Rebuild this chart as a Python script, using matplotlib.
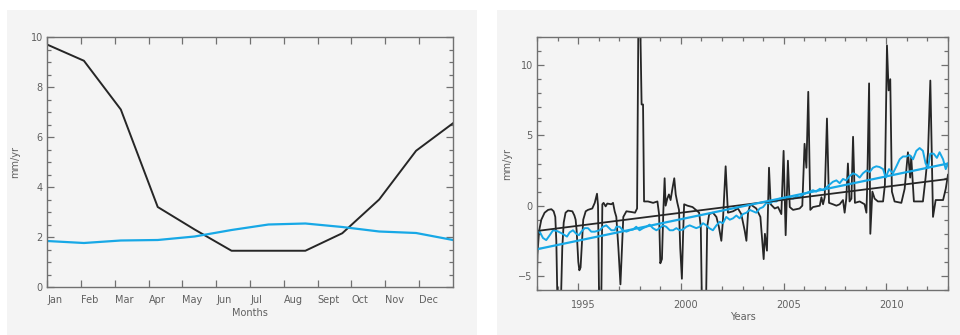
import numpy as np
import matplotlib.pyplot as plt
from matplotlib.patches import Rectangle
from matplotlib.ticker import MultipleLocator
import matplotlib.transforms as mtrans

# left panel: mean seasonal cycle (12 points spread over the year)
months = ['Jan', 'Feb', 'Mar', 'Apr', 'May', 'Jun', 'Jul', 'Aug', 'Sept', 'Oct', 'Nov', 'Dec']
season_black = [9.7, 9.05, 7.1, 3.2, 2.3, 1.45, 1.45, 1.45, 2.15, 3.5, 5.45, 6.55]
season_blue = [1.84, 1.76, 1.86, 1.88, 2.02, 2.28, 2.5, 2.54, 2.4, 2.22, 2.16, 1.88]

# right panel: time series (decimal years, mm/yr)
black_years = [
    1993.00, 1993.02, 1993.10, 1993.21, 1993.37, 1993.54, 1993.70, 1993.81, 1993.89, 1993.94,
    1993.99, 1994.17, 1994.23, 1994.30, 1994.39, 1994.51, 1994.72, 1994.82, 1994.88, 1994.93,
    1995.01, 1995.06, 1995.12, 1995.19, 1995.25, 1995.37, 1995.48, 1995.69, 1995.81, 1995.92,
    1995.97, 1996.02, 1996.13, 1996.18, 1996.24, 1996.34, 1996.42, 1996.62, 1996.70, 1996.78,
    1996.86, 1996.96, 1997.06, 1997.12, 1997.20, 1997.35, 1997.59, 1997.77, 1997.87, 1997.93,
    1998.03, 1998.09, 1998.16, 1998.21, 1998.40, 1998.65, 1998.86, 1998.94, 1999.00, 1999.08,
    1999.15, 1999.21, 1999.26, 1999.34, 1999.42, 1999.50, 1999.60, 1999.68, 1999.75, 1999.83,
    1999.91, 1999.97, 2000.05, 2000.11, 2000.16, 2000.32, 2000.57, 2000.73, 2000.89, 2000.97,
    2001.02, 2001.23, 2001.28, 2001.38, 2001.56, 2001.73, 2001.85, 2001.97, 2002.05, 2002.18,
    2002.29, 2002.54, 2002.78, 2002.94, 2003.11, 2003.19, 2003.27, 2003.38, 2003.67, 2003.87,
    2004.03, 2004.09, 2004.19, 2004.29, 2004.37, 2004.57, 2004.73, 2004.89, 2005.00, 2005.10,
    2005.21, 2005.30, 2005.46, 2005.78, 2005.91, 2006.02, 2006.11, 2006.20, 2006.30, 2006.43,
    2006.76, 2006.84, 2006.92, 2007.00, 2007.11, 2007.21, 2007.40, 2007.57, 2007.73, 2007.89,
    2007.97, 2008.05, 2008.13, 2008.21, 2008.30, 2008.38, 2008.47, 2008.70, 2008.94, 2009.03,
    2009.07, 2009.16, 2009.22, 2009.32, 2009.43, 2009.59, 2009.84, 2009.93, 2010.03, 2010.11,
    2010.19, 2010.27, 2010.40, 2010.73, 2010.89, 2011.05, 2011.16, 2011.21, 2011.34, 2011.78,
    2011.91, 2012.03, 2012.14, 2012.27, 2012.40, 2012.76, 2012.89, 2013.00]
black_vals = [
    -5.0, -3.5, -1.8, -1.0, -0.5, -0.3, -0.25, -0.4, -0.8, -2.5,
    -6.5, -6.5, -3.0, -1.2, -0.5, -0.35, -0.4, -0.7, -1.0, -1.8,
    -4.0, -4.6, -4.4, -2.5, -1.0, -0.4, -0.3, -0.2, 0.2, 0.85,
    0.0, -6.5, -6.5, 0.1, 0.2, -0.05, 0.15, 0.1, 0.2, -0.4,
    -0.8, -3.0, -5.6, -3.5, -0.8, -0.4, -0.45, -0.5, -0.2, 12.5,
    12.5, 7.2, 7.2, 0.3, 0.3, 0.2, 0.3, -0.6, -4.1, -3.8,
    -0.3, 1.95, 0.0, 0.5, 0.8, 0.4, 1.3, 1.95, 0.8, 0.2,
    -0.3, -3.0, -5.2, -2.0, 0.1, 0.0, -0.1, -0.3, -0.5, -1.5,
    -6.5, -6.5, -1.5, -0.6, -0.5, -0.8, -1.5, -2.5, -1.0, 2.8,
    -0.5, -0.4, -0.2, -0.6, -1.8, -2.5, -0.5, 0.1, -0.2, -0.8,
    -3.8, -2.0, -3.2, 2.7, 0.1, -0.2, -0.1, -0.6, 3.9, -2.1,
    3.2, -0.1, -0.3, -0.2, 0.0, 4.4, 2.7, 8.1, -0.3, -0.1,
    0.0, 0.6, 0.1, 0.6, 6.2, 0.2, 0.1, 0.0, 0.1, 0.4,
    -0.5, 0.5, 3.0, 0.3, 0.5, 4.9, 0.2, 0.3, 0.1, -0.5,
    1.5, 8.7, -2.0, 1.0, 0.5, 0.3, 0.3, 1.5, 11.4, 8.2,
    9.0, 1.0, 0.3, 0.2, 1.2, 3.8, 2.0, 3.5, 0.3, 0.3,
    2.0, 3.8, 8.9, -0.8, 0.4, 0.4, 1.2, 2.2]

blue_years = [
    1993.00, 1993.13, 1993.29, 1993.45, 1993.62, 1993.78, 1993.97, 1994.18, 1994.35, 1994.46,
    1994.59, 1994.75, 1994.91, 1995.04, 1995.16, 1995.32, 1995.48, 1995.64, 1995.81, 1996.05,
    1996.21, 1996.37, 1996.62, 1996.78, 1996.86, 1997.02, 1997.18, 1997.35, 1997.51, 1997.67,
    1997.83, 1997.99, 1998.16, 1998.32, 1998.48, 1998.64, 1998.81, 1998.97, 1999.13, 1999.29,
    1999.46, 1999.62, 1999.78, 1999.94, 2000.10, 2000.27, 2000.43, 2000.59, 2000.75, 2000.92,
    2001.08, 2001.24, 2001.38, 2001.56, 2001.73, 2001.89, 2002.05, 2002.21, 2002.38, 2002.54,
    2002.70, 2002.86, 2003.02, 2003.19, 2003.35, 2003.51, 2003.67, 2003.84, 2004.00, 2004.16,
    2004.32, 2004.48, 2004.65, 2004.81, 2004.97, 2005.13, 2005.30, 2005.46, 2005.62, 2005.78,
    2005.94, 2006.11, 2006.27, 2006.43, 2006.59, 2006.76, 2006.92, 2007.08, 2007.24, 2007.40,
    2007.57, 2007.73, 2007.89, 2008.05, 2008.21, 2008.38, 2008.54, 2008.70, 2008.86, 2009.03,
    2009.19, 2009.35, 2009.51, 2009.67, 2009.84, 2009.97, 2010.13, 2010.32, 2010.49, 2010.65,
    2010.81, 2010.97, 2011.13, 2011.30, 2011.46, 2011.62, 2011.78, 2011.91, 2012.03, 2012.14,
    2012.30, 2012.46, 2012.59, 2012.76, 2012.89, 2013.00]
blue_vals = [
    -1.75, -1.85, -2.3, -2.45, -2.1, -1.75, -1.8, -1.95, -2.1, -2.2,
    -1.9, -1.75, -2.0, -2.1, -1.85, -1.6, -1.6, -1.85, -1.85, -1.75,
    -1.5, -1.4, -1.75, -1.75, -1.5, -1.5, -1.75, -1.85, -1.75, -1.7,
    -1.5, -1.75, -1.6, -1.5, -1.35, -1.6, -1.75, -1.6, -1.4, -1.5,
    -1.75, -1.75, -1.6, -1.75, -1.7, -1.5, -1.4, -1.5, -1.6, -1.5,
    -1.25, -1.4, -1.6, -1.75, -1.4, -1.15, -1.25, -0.8, -1.0, -0.9,
    -0.7, -0.9, -0.6, -0.5, -0.3, -0.4, -0.5, -0.2, -0.1, 0.2,
    0.15, 0.3, 0.3, 0.5, 0.45, 0.6, 0.55, 0.5, 0.65, 0.6,
    0.8, 0.9, 1.0, 1.1, 1.0, 1.2, 1.1, 1.3, 1.5, 1.7,
    1.8, 1.6, 1.9, 1.8, 2.1, 2.3, 2.2, 2.0, 2.3, 2.5,
    2.4, 2.7, 2.8, 2.75, 2.6, 2.0, 2.6, 2.3, 2.8, 3.3,
    3.5, 3.5, 3.6, 3.3, 3.9, 4.1, 3.9, 3.0, 2.7, 3.7,
    3.7, 3.4, 3.8, 3.3, 2.6, 3.0]

# linear trends (end points)
trend_years = [1993.0, 2013.0]
trend_black = [-1.8, 1.9]
trend_blue = [-3.1, 3.0]

BLACK = '#262626'
BLUE = '#17a8e6'
BG = '#f4f4f4'
GREY = '#606060'

fig = plt.figure(figsize=(9.6, 3.35), dpi=100)
fig.patches.append(Rectangle((7 / 960, 0), 470 / 960, 325 / 335, transform=fig.transFigure,
                             facecolor=BG, edgecolor='none', zorder=-10))
fig.patches.append(Rectangle((497 / 960, 0), 463 / 960, 325 / 335, transform=fig.transFigure,
                             facecolor=BG, edgecolor='none', zorder=-10))

ax1 = fig.add_axes([47 / 960, 1 - 287 / 335, 406 / 960, 250 / 335])
ax2 = fig.add_axes([537 / 960, 1 - 290 / 335, 411 / 960, 253 / 335])

for ax in (ax1, ax2):
    ax.set_zorder(5)
    ax.set_facecolor(BG)
    for s in ax.spines.values():
        s.set_color('#707070')
        s.set_linewidth(1.0)
    ax.tick_params(which='both', direction='in', top=True, right=True, color='#707070',
                   labelcolor=GREY, labelsize=7, width=0.9)
    ax.tick_params(which='major', length=5)
    ax.tick_params(which='minor', length=3)

# ---- left: seasonal cycle
xm = np.arange(12) * 12 / 11
ax1.plot(xm, season_black, color=BLACK, lw=1.4)
ax1.plot(xm, season_blue, color=BLUE, lw=1.6)
ax1.set_xlim(0, 12)
ax1.set_ylim(0, 10)
ax1.set_xticks(np.arange(12))
ax1.set_xticklabels(months, ha='left')
ax1.set_yticks(np.arange(0, 11, 2))
ax1.yaxis.set_minor_locator(MultipleLocator(0.5))
ax1.tick_params(axis='x', pad=6)
ax1.tick_params(axis='y', pad=3)
ax1.set_xlabel('Months', fontsize=7, color=GREY)
ax1.set_ylabel('mm/yr', fontsize=7, color=GREY)
ax1.xaxis.set_label_coords(0.5, -0.085)
ax1.yaxis.set_label_coords(-27 / 406, 0.5)

# ---- right: time series
ax2.plot(black_years, black_vals, color=BLACK, lw=1.3)
ax2.plot(blue_years, blue_vals, color=BLUE, lw=1.4)
ax2.plot(trend_years, trend_black, color=BLACK, lw=1.3)
ax2.plot(trend_years, trend_blue, color=BLUE, lw=1.6)
ax2.set_xlim(1993, 2013)
ax2.set_ylim(-6, 12)
ax2.set_xticks([1995, 2000, 2005, 2010])
ax2.xaxis.set_minor_locator(MultipleLocator(1))
ax2.set_yticks([-5, 0, 5, 10])
ax2.yaxis.set_minor_locator(MultipleLocator(1))
ax2.tick_params(axis='x', pad=7)
ax2.tick_params(axis='y', pad=3)
ax2.set_xlabel('Years', fontsize=7, color=GREY)
ax2.set_ylabel('mm/yr', fontsize=7, color=GREY)
ax2.xaxis.set_label_coords(0.5, -0.086)
ax2.yaxis.set_label_coords(-25 / 411, 0.5)

shift = mtrans.ScaledTranslation(5 / 100, 0, fig.dpi_scale_trans)
for lab in ax2.get_xticklabels():
    lab.set_transform(lab.get_transform() + shift)

fig.savefig('out.png', dpi=100, facecolor='white')
